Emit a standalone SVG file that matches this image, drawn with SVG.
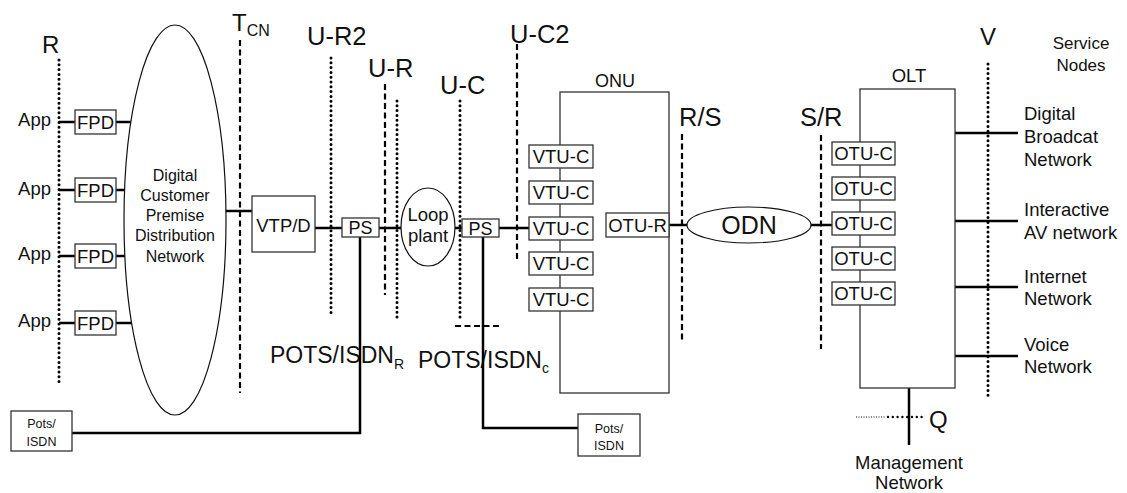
<svg xmlns="http://www.w3.org/2000/svg" width="1127" height="493" viewBox="0 0 1127 493">
<style>
text{font-family:"Liberation Sans",Arial,sans-serif;fill:#111}
.box{fill:#fff;stroke:#333;stroke-width:1.3}
.frame{fill:none;stroke:#333;stroke-width:1.3}
.ell{fill:#fff;stroke:#111;stroke-width:1.2}
.wire{stroke:#000;stroke-width:2.5;fill:none}
.dot{stroke:#000;stroke-width:3;stroke-dasharray:0 4.8;stroke-linecap:round;fill:none}
.dash{stroke:#000;stroke-width:2.2;stroke-dasharray:6 3.5;fill:none}
.ref{font-size:25.5px}
.lab{font-size:18.5px}
.bt{font-size:18.5px;text-anchor:middle}
.sm{font-size:12.5px;text-anchor:middle}
.mid{text-anchor:middle}
</style>

<g id="reference-points">
  <text x="42" y="53" style="font-size:24px">R</text>
  <line class="dot" x1="59" y1="60" x2="59" y2="386"/>
  <text x="232" y="31" style="font-size:24px">T<tspan font-size="16" dy="5">CN</tspan></text>
  <line class="dash" x1="240" y1="40" x2="240" y2="393"/>
  <text x="307" y="45" class="ref">U-R2</text>
  <line class="dot" x1="331" y1="58" x2="331" y2="315"/>
  <text x="368" y="77" class="ref">U-R</text>
  <line class="dash" x1="385" y1="84" x2="385" y2="295"/>
  <line class="dot" x1="397" y1="101" x2="397" y2="320"/>
  <text x="440" y="94" class="ref">U-C</text>
  <line class="dot" x1="460" y1="101" x2="460" y2="320"/>
  <line class="dash" x1="455" y1="326" x2="502" y2="326"/>
  <text x="510" y="43" class="ref">U-C2</text>
  <line class="dash" x1="517" y1="44" x2="517" y2="260"/>
  <text x="679" y="126" class="ref">R/S</text>
  <line class="dash" x1="682" y1="134" x2="682" y2="340"/>
  <text x="800" y="126" class="ref">S/R</text>
  <line class="dash" x1="821" y1="135" x2="821" y2="349"/>
  <text x="980" y="45" style="font-size:24px">V</text>
  <line class="dot" x1="988" y1="64" x2="988" y2="398"/>
  <text x="929" y="428" style="font-size:24px">Q</text>
  <line stroke="#000" stroke-width="1" stroke-dasharray="1 1.5" x1="856" y1="417" x2="886" y2="417"/>
  <line class="dot" style="stroke-width:2.4" x1="888" y1="417" x2="926" y2="417"/>
  <text x="270" y="363" style="font-size:23px">POTS/ISDN<tspan font-size="14" dy="6">R</tspan></text>
  <text x="418" y="368" style="font-size:23px">POTS/ISDN<tspan font-size="14" dy="5">c</tspan></text>
</g>

<g id="connectors">
  <line class="wire" x1="59" y1="122" x2="75" y2="122"/>
  <line class="wire" x1="116" y1="122" x2="131" y2="122"/>
  <line class="wire" x1="59" y1="190" x2="75" y2="190"/>
  <line class="wire" x1="116" y1="190" x2="125" y2="190"/>
  <line class="wire" x1="59" y1="256" x2="75" y2="256"/>
  <line class="wire" x1="116" y1="256" x2="125" y2="256"/>
  <line class="wire" x1="59" y1="323" x2="75" y2="323"/>
  <line class="wire" x1="116" y1="323" x2="132" y2="323"/>
  <line class="wire" x1="225" y1="211" x2="252" y2="211"/>
  <line class="wire" x1="315" y1="228" x2="342" y2="228"/>
  <line class="wire" x1="379" y1="228" x2="401" y2="228"/>
  <line class="wire" x1="455" y1="228" x2="462" y2="228"/>
  <line class="wire" x1="499" y1="228" x2="529" y2="228"/>
  <polyline class="wire" points="360,237 360,433 72,433"/>
  <polyline class="wire" points="483,237 483,428 578,428"/>
  <line class="wire" x1="669" y1="225" x2="687" y2="225"/>
  <line class="wire" x1="811" y1="225" x2="832" y2="225"/>
  <line class="wire" x1="955" y1="133" x2="1018" y2="133"/>
  <line class="wire" x1="955" y1="221" x2="1018" y2="221"/>
  <line class="wire" x1="955" y1="287" x2="1018" y2="287"/>
  <line class="wire" x1="955" y1="356" x2="1018" y2="356"/>
  <line class="wire" x1="909" y1="388" x2="909" y2="445"/>
</g>

<g id="apps">
  <text x="51" y="126" class="lab" text-anchor="end">App</text>
  <text x="51" y="195" class="lab" text-anchor="end">App</text>
  <text x="51" y="260" class="lab" text-anchor="end">App</text>
  <text x="51" y="327" class="lab" text-anchor="end">App</text>
</g>

<g id="fpd1"><rect class="box" x="75" y="110" width="41" height="24"/><text x="95.5" y="128.6" class="bt">FPD</text></g>
<g id="fpd2"><rect class="box" x="75" y="178" width="41" height="24"/><text x="95.5" y="196.6" class="bt">FPD</text></g>
<g id="fpd3"><rect class="box" x="75" y="244" width="41" height="24"/><text x="95.5" y="262.6" class="bt">FPD</text></g>
<g id="fpd4"><rect class="box" x="75" y="311" width="41" height="24"/><text x="95.5" y="329.6" class="bt">FPD</text></g>

<g id="dcpdn">
  <ellipse class="ell" fill="none" cx="175" cy="220" rx="51" ry="195"/>
  <g style="font-size:16px;text-anchor:middle">
    <text x="175" y="181">Digital</text>
    <text x="175" y="201">Customer</text>
    <text x="175" y="221">Premise</text>
    <text x="175" y="241">Distribution</text>
    <text x="175" y="262">Network</text>
  </g>
</g>

<g id="vtpd"><rect class="box" x="252" y="196" width="63" height="56"/><text x="283.5" y="231.5" class="bt">VTP/D</text></g>
<g id="ps1"><rect class="box" x="342" y="218" width="37" height="19"/><text x="360.5" y="234" class="bt" style="font-size:18px">PS</text></g>
<g id="loop"><ellipse class="ell" cx="428" cy="227" rx="27" ry="39"/><text x="428" y="221" class="mid" style="font-size:18.5px">Loop</text><text x="428" y="242" class="mid" style="font-size:18.5px">plant</text></g>
<g id="ps2"><rect class="box" x="462" y="219" width="37" height="18"/><text x="480.5" y="234.5" class="bt" style="font-size:18px">PS</text></g>

<g id="pots1"><rect class="box" x="11" y="411" width="61" height="40"/><text x="41.5" y="428" class="sm">Pots/</text><text x="41.5" y="446" class="sm">ISDN</text></g>
<g id="pots2"><rect class="box" x="578" y="414" width="62" height="42"/><text x="609" y="433" class="sm">Pots/</text><text x="609" y="450" class="sm">ISDN</text></g>

<g id="onu">
  <text x="615" y="87" class="bt" style="font-size:18px">ONU</text>
  <rect class="frame" x="560" y="92" width="109" height="301"/>
  <rect class="box" x="529" y="145" width="64" height="23"/><text x="561" y="162.5" class="bt">VTU-C</text>
  <rect class="box" x="529" y="181" width="64" height="23"/><text x="561" y="198.5" class="bt">VTU-C</text>
  <rect class="box" x="529" y="217" width="64" height="23"/><text x="561" y="234.5" class="bt">VTU-C</text>
  <rect class="box" x="529" y="252" width="64" height="23"/><text x="561" y="269.5" class="bt">VTU-C</text>
  <rect class="box" x="529" y="288" width="64" height="23"/><text x="561" y="305.5" class="bt">VTU-C</text>
  <rect class="box" x="606" y="213" width="63" height="24"/><text x="637.5" y="231.5" class="bt">OTU-R</text>
</g>

<g id="odn"><ellipse class="ell" cx="749" cy="225" rx="62" ry="18"/><text x="749" y="234" class="mid" style="font-size:25px">ODN</text></g>

<g id="olt">
  <text x="909" y="82" class="bt">OLT</text>
  <rect class="frame" x="860" y="89" width="95" height="299"/>
  <rect class="box" x="832" y="142" width="63" height="23"/><text x="863.5" y="159.5" class="bt">OTU-C</text>
  <rect class="box" x="832" y="177" width="63" height="23"/><text x="863.5" y="194.5" class="bt">OTU-C</text>
  <rect class="box" x="832" y="212" width="63" height="23"/><text x="863.5" y="229.5" class="bt">OTU-C</text>
  <rect class="box" x="832" y="247" width="63" height="23"/><text x="863.5" y="264.5" class="bt">OTU-C</text>
  <rect class="box" x="832" y="282" width="63" height="23"/><text x="863.5" y="299.5" class="bt">OTU-C</text>
</g>

<g id="service-nodes">
  <text x="1081" y="49" class="bt" style="font-size:17px">Service</text>
  <text x="1081" y="71" class="bt" style="font-size:17px">Nodes</text>
</g>
<g id="digital-broadcast"><text x="1024" y="120" class="lab">Digital</text><text x="1024" y="143" class="lab">Broadcat</text><text x="1024" y="166" class="lab">Network</text></g>
<g id="interactive-av"><text x="1024" y="216" class="lab">Interactive</text><text x="1024" y="239" class="lab">AV network</text></g>
<g id="internet"><text x="1024" y="283" class="lab">Internet</text><text x="1024" y="305" class="lab">Network</text></g>
<g id="voice"><text x="1024" y="351" class="lab">Voice</text><text x="1024" y="373" class="lab">Network</text></g>
<g id="management"><text x="909" y="469" class="bt">Management</text><text x="909" y="489" class="bt">Network</text></g>
</svg>
